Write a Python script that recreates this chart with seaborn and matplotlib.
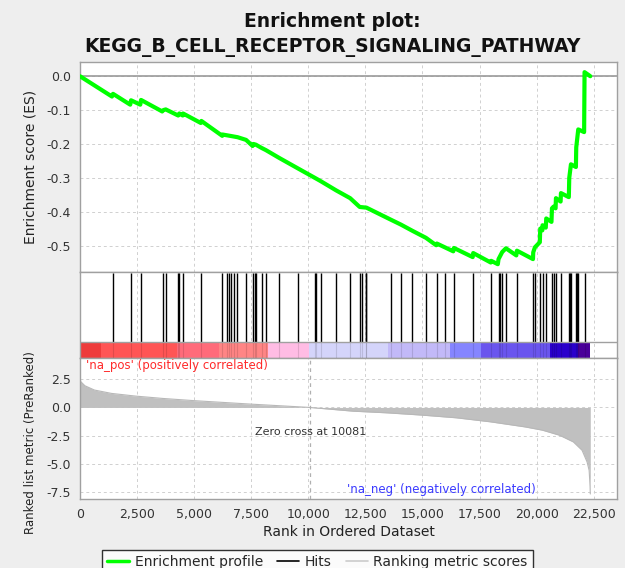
import matplotlib
matplotlib.use('Agg')
import matplotlib.pyplot as plt
import matplotlib.ticker as mticker
from matplotlib.lines import Line2D
import seaborn as sns
import numpy as np

# ---------------------------------------------------------------------------
# Data
# ---------------------------------------------------------------------------
title = 'Enrichment plot:\nKEGG_B_CELL_RECEPTOR_SIGNALING_PATHWAY'
n_genes = 22350
zero_cross = 10081

# running enrichment score (rank, ES)
es_rank = [0, 1400, 1446, 2200, 2235, 2640, 2673, 3600, 3650, 3755,
           4300, 4351, 4500, 4514, 5290, 5316, 6230, 6236, 6900, 7274,
           7560, 7594, 7700, 7962, 8138, 8720, 9540, 10285, 10548, 11218,
           11832, 12250, 12546, 13628, 14054, 14549, 15149, 15600, 15631, 16350,
           16376, 17200, 17222, 17990, 18010, 18300, 18331, 18493, 18655, 19110,
           19137, 19840, 19851, 19926, 20140, 20158, 20250, 20259, 20400, 20421,
           20650, 20671, 20741, 20830, 20846, 21050, 21065, 21410, 21429, 21503,
           21720, 21735, 21823, 22080, 22099, 22350]
es_value = [0.000, -0.060, -0.052, -0.084, -0.071, -0.084, -0.070, -0.104, -0.100, -0.098,
            -0.116, -0.110, -0.116, -0.110, -0.138, -0.132, -0.176, -0.172, -0.180, -0.188,
            -0.206, -0.200, -0.202, -0.212, -0.218, -0.241, -0.272, -0.300, -0.310, -0.337,
            -0.360, -0.386, -0.388, -0.424, -0.438, -0.456, -0.477, -0.499, -0.494, -0.517,
            -0.507, -0.534, -0.522, -0.550, -0.545, -0.555, -0.540, -0.519, -0.508, -0.529,
            -0.515, -0.540, -0.520, -0.505, -0.490, -0.450, -0.455, -0.440, -0.447, -0.420,
            -0.430, -0.390, -0.385, -0.390, -0.360, -0.370, -0.345, -0.357, -0.300, -0.260,
            -0.268, -0.210, -0.157, -0.165, 0.012, 0.000]

# positions of gene-set members in the ranked list
hit_ranks = [1446, 2235, 2673, 3650, 3755, 4308, 4351, 4514, 5316, 6236,
             6442, 6543, 6604, 6735, 6880, 7274, 7594, 7656, 7700, 7962,
             8138, 8720, 9540, 10285, 10329, 10548, 11218, 11832, 12270, 12357,
             12520, 12546, 13628, 14054, 14549, 15149, 15631, 16008, 16376, 17222,
             18010, 18331, 18405, 18493, 18655, 19137, 19851, 19926, 20158, 20259,
             20421, 20671, 20741, 20846, 21065, 21429, 21460, 21503, 21735, 21770,
             21823, 22099]

# ranked list metric
metric_rank = [0, 30, 215, 630, 1380, 2440, 3640, 5040, 7460, 10081, 11950, 13460,
               14970, 16480, 17980, 19490, 20250, 21000, 21610, 21990, 22210, 22300,
               22340, 22350]
metric_value = [2.65, 2.3, 1.93, 1.55, 1.25, 1.01, 0.80, 0.60, 0.30, 0.0, -0.33, -0.48,
                -0.68, -0.92, -1.28, -1.73, -2.02, -2.47, -3.07, -3.81, -4.85, -5.6,
                -7.0, -7.7]

# colour band under the hits
band_edges = [0, 900, 4250, 6100, 8250, 10050, 13500, 16200, 17550, 20600, 21800, 22350]
band_colors = ['#ee3c3c', '#ff5555', '#ff6b7a', '#ff8585', '#ffbce4', '#d4d4fa',
               '#c2b9f8', '#8585ff', '#6a55ee', '#2a00cc', '#4a0099']

x_ticks = [0, 2500, 5000, 7500, 10000, 12500, 15000, 17500, 20000, 22500]
es_ticks = [0.0, -0.1, -0.2, -0.3, -0.4, -0.5]
metric_ticks = [2.5, 0.0, -2.5, -5.0, -7.5]

# ---------------------------------------------------------------------------
sns.set_style("white")
plt.rcParams['font.family'] = ['DejaVu Sans']

fig = plt.figure(figsize=(6.25, 5.68), dpi=100, facecolor='#eeeeee')

left, width = 80 / 625, 537 / 625
ax_es = fig.add_axes([left, 1 - 272 / 568, width, 210 / 568])
ax_hit = fig.add_axes([left, 1 - 358 / 568, width, 86 / 568])
ax_met = fig.add_axes([left, 1 - 498.5 / 568, width, 140.5 / 568])

xlim = (0, 23520)
spine_color = '#a0a0a0'
grid_kw = dict(color='#d0d0d0', linestyle=(0, (3, 3)), linewidth=0.7)

for ax in (ax_es, ax_hit, ax_met):
    ax.set_facecolor('white')
    ax.set_xlim(xlim)
    ax.set_xticks(x_ticks)
    for spine in ax.spines.values():
        spine.set_edgecolor(spine_color)
        spine.set_linewidth(1)
    ax.grid(True, **grid_kw)
    ax.set_axisbelow(True)
    ax.tick_params(labelsize=9, colors='#333333', length=3, width=0.6,
                   color=spine_color)

# --- Enrichment score panel -----------------------------------------------
ax_es.axhline(0, color='#999999', linewidth=1.2, zorder=1)
sns.lineplot(x=es_rank, y=es_value, ax=ax_es, color='#00ff00', linewidth=3.0,
             sort=False, estimator=None, zorder=3)
ax_es.set_ylim(-0.578, 0.042)
ax_es.set_yticks(es_ticks)
ax_es.yaxis.set_major_formatter(mticker.FormatStrFormatter('%.1f'))
ax_es.tick_params(axis='x', labelbottom=False, length=0)
ax_es.set_ylabel('Enrichment score (ES)', fontsize=10, color='#222222')
ax_es.yaxis.set_label_coords(-0.08, 0.5)
fig.suptitle(title, x=0.532, y=0.978, fontsize=13.5, fontweight='bold',
             color='#111111', linespacing=1.35, va='top')

# --- Hits + colour band panel ----------------------------------------------
band_h = 16 / 86
ax_hit.set_ylim(0, 1)
ax_hit.bar(band_edges[:-1], band_h, width=np.diff(band_edges), align='edge',
           color=band_colors, linewidth=0, zorder=2)
ax_hit.vlines(hit_ranks, band_h, 0.99, color='black', linewidth=1.0, zorder=3)
ax_hit.vlines(hit_ranks, 0, band_h, color='black', linewidth=0.8, alpha=0.12,
              zorder=3)
ax_hit.axhline(band_h, color=spine_color, linewidth=1, zorder=4)
ax_hit.set_yticks([])
ax_hit.tick_params(axis='x', labelbottom=False, length=0)
ax_hit.grid(False)
ax_hit.grid(True, axis='x', **grid_kw)

# --- Ranked list metric panel ----------------------------------------------
ax_met.fill_between(metric_rank, metric_value, 0, color='#c0c0c0',
                    linewidth=0, zorder=2)
ax_met.plot(metric_rank, metric_value, color='#b8b8b8', linewidth=0.8, zorder=2)
ax_met.axvline(zero_cross, color='#b0b0b0', linestyle=(0, (3, 3)),
               linewidth=0.9, zorder=3)
ax_met.set_ylim(-8.1, 4.4)
ax_met.set_yticks(metric_ticks)
ax_met.yaxis.set_major_formatter(mticker.FormatStrFormatter('%.1f'))
ax_met.xaxis.set_major_formatter(mticker.StrMethodFormatter('{x:,.0f}'))
ax_met.set_xlabel('Rank in Ordered Dataset', fontsize=10, color='#222222',
                  labelpad=3)
ax_met.set_ylabel('Ranked list metric (PreRanked)', fontsize=8.5,
                  color='#222222')
ax_met.yaxis.set_label_coords(-0.08, 0.40)

ax_met.text(250, 4.3, "'na_pos' (positively correlated)", color='#ff2a2a',
            fontsize=8.5, va='top', ha='left')
ax_met.text(zero_cross, -2.2, 'Zero cross at %d' % zero_cross,
            color='#333333', fontsize=8, ha='center', va='center')
ax_met.text(19950, -7.3, "'na_neg' (negatively correlated)", color='#3a3aff',
            fontsize=8.5, ha='right', va='center')

# --- Legend ----------------------------------------------------------------
handles = [Line2D([], [], color='#00ff00', linewidth=2.5),
           Line2D([], [], color='black', linewidth=1.2),
           Line2D([], [], color='#cccccc', linewidth=1.2)]
labels = ['Enrichment profile', 'Hits', 'Ranking metric scores']
leg = fig.legend(handles, labels, loc='upper center', ncol=3,
                 bbox_to_anchor=(0.508, 1 - 543 / 568), fontsize=10,
                 frameon=True, fancybox=False, handlelength=1.6,
                 handletextpad=0.4, columnspacing=1.0, borderpad=0.35)
leg.get_frame().set_edgecolor('black')
leg.get_frame().set_linewidth(1)

fig.savefig('out.png', dpi=100, facecolor=fig.get_facecolor())
